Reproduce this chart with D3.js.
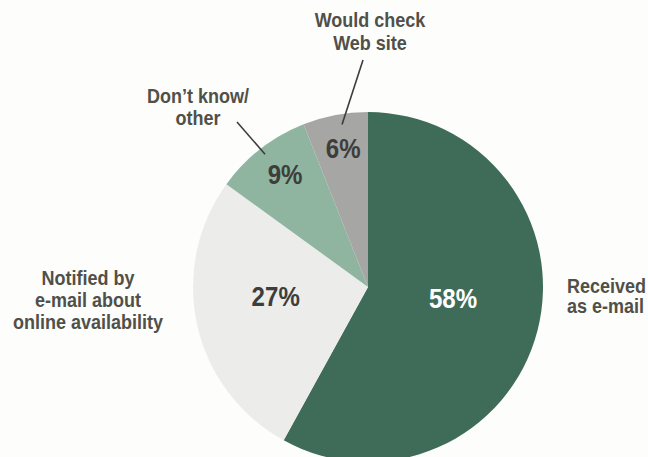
<!DOCTYPE html>
<html>
<head>
<meta charset="utf-8">
<script src="https://cdn.jsdelivr.net/npm/d3@7"></script>
<style>
  body { margin: 0; background: #fdfdfb; }
  text { font-family: "Liberation Sans", Arial, sans-serif; font-weight: bold; }
</style>
</head>
<body>
<div id="chart-container"></div>
<script>
// data
const categories = ["Received as e-mail", "Notified by e-mail about online availability", "Don't know/other", "Would check Web site"];
const shares = [58, 27, 9, 6];
const labelLines = [
  ["Received", "as e-mail"],
  ["Notified by", "e-mail about", "online availability"],
  ["Don\u2019t know/", "other"],
  ["Would check", "Web site"]
];

((() => {
  const width = 648;
  const height = 457;
  const cx = 368;
  const cy = 287;
  const radius = 175;
  const squeeze = 0.9; // reference type is a condensed face

  const colors = ["#3f6c59", "#ececea", "#8fb5a1", "#a6a6a4"];
  const pctColors = ["#ffffff", "#3d3d3b", "#3d3d3b", "#3d3d3b"];
  // where the % sits, as fraction of radius and angle nudge (deg)
  const pctPos = [[0.49, -7], [0.53, 7], [0.8, 1.5], [0.81, 0.7]];
  // outside label anchors
  const labelPos = [[567, 293, "start"], [88, 285, "middle"], [198, 103, "middle"], [370, 27, "middle"]];
  const lineH = [20, 22, 22, 23];
  // leader lines: [inner radius frac, angle offset, outer point]
  const leaders = [null, null, [0.96, 0, [237, 122]], [0.94, 0.03, [363, 60]]];

  const data = categories.map((c, i) => ({name: c, value: shares[i], lines: labelLines[i]}));

  const pie = d3.pie().value(d => d.value).sort(null);
  const arc = d3.arc().innerRadius(0).outerRadius(radius);
  const arcs = pie(data);

  const svg = d3.create("svg")
    .attr("width", width)
    .attr("height", height)
    .attr("viewBox", [0, 0, width, height]);

  const g = svg.append("g").attr("transform", `translate(${cx},${cy})`);

  g.selectAll("path")
    .data(arcs)
    .enter()
    .append("path")
    .attr("d", arc)
    .attr("fill", (d, i) => colors[i]);

  const polar = (a, r) => [r * Math.sin(a), -r * Math.cos(a)];

  // percent labels
  g.selectAll("text.pct")
    .data(arcs)
    .enter()
    .append("text")
    .attr("class", "pct")
    .attr("transform", (d, i) => {
      const a = (d.startAngle + d.endAngle) / 2 + pctPos[i][1] * Math.PI / 180;
      const p = polar(a, radius * pctPos[i][0]);
      return `translate(${p[0]},${p[1]}) scale(0.86,1)`;
    })
    .attr("dy", "0.36em")
    .attr("text-anchor", "middle")
    .attr("fill", (d, i) => pctColors[i])
    .style("font-size", "28px")
    .text(d => d.data.value + "%");

  // leader lines
  arcs.forEach((d, i) => {
    if (!leaders[i]) return;
    const a = (d.startAngle + d.endAngle) / 2 + leaders[i][1];
    const p = polar(a, radius * leaders[i][0]);
    svg.append("line")
      .attr("x1", cx + p[0]).attr("y1", cy + p[1])
      .attr("x2", leaders[i][2][0]).attr("y2", leaders[i][2][1])
      .attr("stroke", "#3d3d3b")
      .attr("stroke-width", 1.6);
  });

  // category labels
  data.forEach((d, i) => {
    const t = svg.append("text")
      .attr("transform", `translate(${labelPos[i][0]},${labelPos[i][1]}) scale(${squeeze},1)`)
      .attr("text-anchor", labelPos[i][2])
      .attr("fill", "#505049")
      .style("font-size", "20px");
    d.lines.forEach((l, j) => {
      t.append("tspan")
        .attr("x", 0)
        .attr("dy", j === 0 ? 0 : lineH[i])
        .text(l);
    });
  });

  d3.select("#chart-container").append(() => svg.node());
})());
</script>
</body>
</html>
